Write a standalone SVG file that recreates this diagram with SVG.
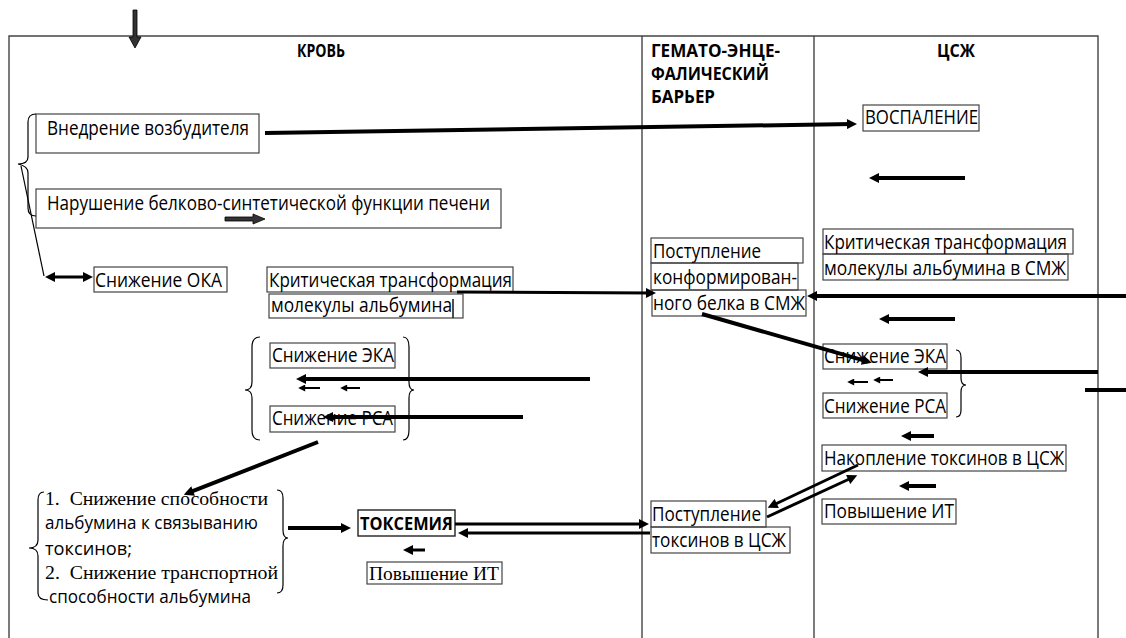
<svg xmlns="http://www.w3.org/2000/svg" width="1126" height="638" viewBox="0 0 1126 638">
<style>
.bg{fill:#fff}
.frame{fill:none;stroke:#444;stroke-width:1.4}
.box{fill:none;stroke:#444;stroke-width:1.2}
.t{font-family:"Open Sans","Liberation Sans",sans-serif;font-size:19.5px;fill:#000}
.l{font-family:"Open Sans","Liberation Sans",sans-serif;font-size:18px;fill:#000}
.h{font-family:"Open Sans","Liberation Sans",sans-serif;font-size:17px;font-weight:bold;fill:#000}
.s{font-family:"Liberation Serif","DejaVu Serif",serif;font-size:18.5px;fill:#000;white-space:pre}
.c{fill:none;stroke:#000;stroke-linecap:butt}
.w4{stroke-width:4}
.w3{stroke-width:3}
.w2{stroke-width:2}
.thin{stroke-width:1.2}
.blk{fill:#333;stroke:#000;stroke-width:0.8}
</style>
<defs>
<marker id="ah" viewBox="0 0 10 10" refX="6" refY="5" markerWidth="12" markerHeight="10" markerUnits="userSpaceOnUse" orient="auto"><path d="M0,0 L10,5 L0,10 z" fill="#000"/></marker>
<marker id="ahr" viewBox="0 0 10 10" refX="6" refY="5" markerWidth="12" markerHeight="10" markerUnits="userSpaceOnUse" orient="auto-start-reverse"><path d="M0,0 L10,5 L0,10 z" fill="#000"/></marker>
<marker id="as" viewBox="0 0 10 10" refX="6" refY="5" markerWidth="8" markerHeight="7" markerUnits="userSpaceOnUse" orient="auto"><path d="M0,0 L10,5 L0,10 z" fill="#000"/></marker>
</defs>
<rect class="bg" x="0" y="0" width="1126" height="638"/>

<g id="frame">
<path class="frame" d="M9,638 L9,36 L1098,36 L1098,638"/>
<line class="frame" x1="642" y1="36" x2="642" y2="638"/>
<line class="frame" x1="814" y1="36" x2="814" y2="638"/>
</g>

<g id="headers">
<text class="h" x="297" y="57" textLength="48" lengthAdjust="spacingAndGlyphs">КРОВЬ</text>
<text class="h" x="651" y="57" textLength="129" lengthAdjust="spacingAndGlyphs">ГЕМАТО-ЭНЦЕ-</text>
<text class="h" x="651" y="80" textLength="118" lengthAdjust="spacingAndGlyphs">ФАЛИЧЕСКИЙ</text>
<text class="h" x="651" y="103" textLength="64" lengthAdjust="spacingAndGlyphs">БАРЬЕР</text>
<text class="h" x="937" y="57" textLength="38" lengthAdjust="spacingAndGlyphs">ЦСЖ</text>
</g>

<g id="n-vnedrenie">
<rect class="box" x="36" y="114" width="223" height="39"/>
<text class="t" x="47" y="135" textLength="202" lengthAdjust="spacingAndGlyphs">Внедрение возбудителя</text>
</g>
<g id="n-narushenie">
<rect class="box" x="36" y="189" width="465" height="39"/>
<text class="t" x="47" y="210" textLength="443" lengthAdjust="spacingAndGlyphs">Нарушение белково-синтетической функции печени</text>
</g>
<g id="n-oka">
<rect class="box" x="94" y="267" width="133" height="25"/>
<text class="t" x="95" y="287" textLength="127" lengthAdjust="spacingAndGlyphs">Снижение ОКА</text>
</g>
<g id="n-krit-blood">
<rect class="box" x="267" y="267" width="246" height="25"/>
<rect class="box" x="269" y="294" width="194" height="24"/>
<line class="box" x1="453" y1="299" x2="453" y2="318" style="stroke:#222;stroke-width:1.6"/>
<text class="t" x="269" y="287" textLength="243" lengthAdjust="spacingAndGlyphs">Критическая трансформация</text>
<text class="t" x="271" y="312" textLength="181" lengthAdjust="spacingAndGlyphs">молекулы альбумина</text>
</g>
<g id="n-eka-blood">
<rect class="box" x="270" y="343" width="125" height="25"/>
<text class="t" x="272" y="362" textLength="122" lengthAdjust="spacingAndGlyphs">Снижение ЭКА</text>
</g>
<g id="n-rsa-blood">
<rect class="box" x="270" y="406" width="125" height="26"/>
<text class="t" x="272" y="425" textLength="121" lengthAdjust="spacingAndGlyphs">Снижение РСА</text>
</g>
<g id="n-list">
<text class="s" xml:space="preserve" x="45" y="505" textLength="223" lengthAdjust="spacingAndGlyphs">1.  Снижение способности</text>
<text class="l" x="45" y="529" textLength="213" lengthAdjust="spacingAndGlyphs">альбумина к связыванию</text>
<text class="l" x="45" y="555" textLength="87" lengthAdjust="spacingAndGlyphs">токсинов;</text>
<text class="s" xml:space="preserve" x="45" y="579" textLength="233" lengthAdjust="spacingAndGlyphs">2.  Снижение транспортной</text>
<text class="l" x="49" y="603" textLength="202" lengthAdjust="spacingAndGlyphs">способности альбумина</text>
</g>
<g id="n-toksemiya">
<rect class="box" x="358" y="510" width="97" height="26" style="stroke:#222;stroke-width:1.4"/>
<text class="h" x="360" y="530" textLength="93" lengthAdjust="spacingAndGlyphs" style="font-size:18px">ТОКСЕМИЯ</text>
</g>
<g id="n-it-blood">
<rect class="box" x="367" y="562" width="135" height="22"/>
<text class="s" x="369" y="580" textLength="130" lengthAdjust="spacingAndGlyphs">Повышение ИТ</text>
</g>
<g id="n-postuplenie-belka">
<rect class="box" x="651" y="238" width="152" height="25"/>
<rect class="box" x="651" y="263" width="147" height="27"/>
<rect class="box" x="652" y="290" width="154" height="26"/>
<text class="t" x="653" y="258" textLength="108" lengthAdjust="spacingAndGlyphs">Поступление</text>
<text class="t" x="653" y="284" textLength="144" lengthAdjust="spacingAndGlyphs">конформирован-</text>
<text class="t" x="653" y="310" textLength="152" lengthAdjust="spacingAndGlyphs">ного белка в СМЖ</text>
</g>
<g id="n-postuplenie-toksinov">
<rect class="box" x="651" y="501" width="115" height="26"/>
<rect class="box" x="651" y="527" width="139" height="26"/>
<text class="t" x="652" y="521" textLength="109" lengthAdjust="spacingAndGlyphs">Поступление</text>
<text class="t" x="652" y="547" textLength="134" lengthAdjust="spacingAndGlyphs">токсинов в ЦСЖ</text>
</g>
<g id="n-vospalenie">
<rect class="box" x="863" y="105" width="116" height="26"/>
<text class="t" x="865" y="124" textLength="113" lengthAdjust="spacingAndGlyphs">ВОСПАЛЕНИЕ</text>
</g>
<g id="n-krit-csf">
<rect class="box" x="823" y="229" width="250" height="25"/>
<rect class="box" x="823" y="254" width="245" height="26"/>
<text class="t" x="824" y="249" textLength="243" lengthAdjust="spacingAndGlyphs">Критическая трансформация</text>
<text class="t" x="824" y="275" textLength="242" lengthAdjust="spacingAndGlyphs">молекулы альбумина в СМЖ</text>
</g>
<g id="n-eka-csf">
<rect class="box" x="823" y="344" width="124" height="25"/>
<text class="t" x="824" y="363" textLength="122" lengthAdjust="spacingAndGlyphs">Снижение ЭКА</text>
</g>
<g id="n-rsa-csf">
<rect class="box" x="823" y="393" width="124" height="25"/>
<text class="t" x="824" y="413" textLength="122" lengthAdjust="spacingAndGlyphs">Снижение РСА</text>
</g>
<g id="n-nakoplenie">
<rect class="box" x="822" y="445" width="244" height="26"/>
<text class="t" x="824" y="465" textLength="240" lengthAdjust="spacingAndGlyphs">Накопление токсинов в ЦСЖ</text>
</g>
<g id="n-it-csf">
<rect class="box" x="822" y="499" width="134" height="25"/>
<text class="t" x="824" y="518" textLength="130" lengthAdjust="spacingAndGlyphs">Повышение ИТ</text>
</g>

<g id="braces">
<path class="c thin" d="M36,114 Q28,114 28,122 L28,157 Q28,164 18,164 Q28,166 28,173 L28,208 Q28,216 36,216"/>
<path class="c thin" d="M260,337 Q252,337 252,347 L252,382 Q252,390 245,390 Q252,390 252,398 L252,430 Q252,440 260,440"/>
<path class="c thin" d="M403,337 Q409,337 409,347 L409,382 Q409,390 414,390 Q409,390 409,398 L409,430 Q409,440 403,440"/>
<path class="c thin" d="M44,492 Q38,492 38,500 L38,540 Q38,548 29,548 Q38,548 38,556 L38,593 Q38,600 48,600"/>
<path class="c thin" d="M277,490 Q283,490 283,498 L283,530 Q283,538 288,538 Q283,538 283,546 L283,585 Q283,593 277,593"/>
<path class="c thin" d="M956,350 Q961,350 961,358 L961,378 Q961,385 966,385 Q961,385 961,392 L961,410 Q961,417 956,417"/>
</g>

<g id="connectors">
<polygon class="blk" points="133,10 137,10 137,37 141,37 135,48 129,37 133,37"/>
<polygon class="blk" points="225,217 253,217 253,214 265,219 253,224 253,221 225,221"/>
<line class="c thin" x1="21" y1="166" x2="44" y2="276"/>
<line class="c w3" x1="49" y1="277" x2="89" y2="277" marker-start="url(#ahr)" marker-end="url(#ahr)"/>
<line class="c w4" x1="265" y1="133" x2="853" y2="124" marker-end="url(#ah)"/>
<line class="c w3" x1="457" y1="292" x2="652" y2="293" marker-end="url(#ah)"/>
<line class="c w4" x1="1126" y1="296" x2="811" y2="296" marker-end="url(#ah)"/>
<line class="c w4" x1="702" y1="314" x2="868" y2="361.7" marker-end="url(#ah)"/>
<line class="c w4" x1="965" y1="178" x2="873" y2="178" marker-end="url(#ah)"/>
<line class="c w4" x1="955" y1="319" x2="883" y2="319" marker-end="url(#ah)"/>
<line class="c w4" x1="1098" y1="372" x2="922" y2="372" marker-end="url(#ah)"/>
<line class="c w2" x1="868" y1="382" x2="850" y2="382" marker-end="url(#as)"/>
<line class="c w2" x1="893" y1="380" x2="876" y2="380" marker-end="url(#as)"/>
<line class="c w4" x1="1085" y1="390" x2="1132" y2="390" marker-end="url(#ah)"/>
<line class="c w4" x1="590" y1="379" x2="300" y2="379" marker-end="url(#ah)"/>
<line class="c w2" x1="320" y1="388" x2="301" y2="388" marker-end="url(#as)"/>
<line class="c w2" x1="360" y1="388" x2="343" y2="388" marker-end="url(#as)"/>
<line class="c w4" x1="523" y1="417" x2="327" y2="417" marker-end="url(#ah)"/>
<line class="c w4" x1="318" y1="442" x2="187.5" y2="493.2" marker-end="url(#ah)"/>
<line class="c w4" x1="288" y1="528" x2="347" y2="528" marker-end="url(#ah)"/>
<line class="c w3" x1="455" y1="524" x2="645" y2="524" marker-end="url(#ah)"/>
<line class="c w3" x1="650" y1="533" x2="462" y2="533" marker-end="url(#ah)"/>
<line class="c w3" x1="425" y1="550" x2="407" y2="550" marker-end="url(#ah)"/>
<line class="c w3" x1="858" y1="465" x2="771.3" y2="506" marker-end="url(#ah)"/>
<line class="c w3" x1="767" y1="517" x2="853.6" y2="477" marker-end="url(#ah)"/>
<line class="c w4" x1="934" y1="436" x2="905" y2="436" marker-end="url(#ah)"/>
<line class="c w4" x1="936" y1="486" x2="903" y2="486" marker-end="url(#ah)"/>
</g>
</svg>
